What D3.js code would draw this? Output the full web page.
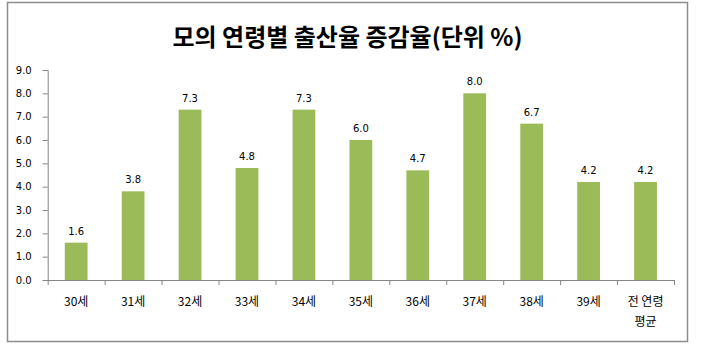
<!DOCTYPE html>
<html>
<head>
<meta charset="utf-8">
<script src="https://cdn.jsdelivr.net/npm/d3@7"></script>
<style>
  body { margin: 0; background: #fff; }
</style>
</head>
<body>
<div id="chart"></div>
<script>
const categories = ['30세', '31세', '32세', '33세', '34세', '35세', '36세', '37세', '38세', '39세', '전 연령|평균']
const values = [1.6, 3.8, 7.3, 4.8, 7.3, 6.0, 4.7, 8.0, 6.7, 4.2, 4.2]
const yTicks = [0, 1, 2, 3, 4, 5, 6, 7, 8, 9]
const title = '모의 연령별 출산율 증감율(단위 %)'

const width = 701
const height = 354
const margin = { left: 47.7, right: 27, top: 70, bottom: 74 }

const svg = d3.select('#chart')
  .append('svg')
  .attr('width', width)
  .attr('height', height)

// outer frame
svg.append('rect')
  .attr('x', 7.5).attr('y', 2.5)
  .attr('width', 680).attr('height', 339)
  .attr('fill', '#fff')
  .attr('stroke', '#8c8c8c')
  .attr('stroke-width', 1.5)

svg.append('text')
  .attr('x', 347.5).attr('y', 46)
  .attr('text-anchor', 'middle')
  .attr('font-family', '"Noto Sans CJK KR", sans-serif')
  .attr('font-weight', 'bold')
  .attr('font-size', 24)
  .attr('fill', '#000')
  .text(title)

const x = d3.scaleBand()
  .domain(categories)
  .range([margin.left, width - margin.right])
  .paddingInner(0.6)
  .paddingOuter(0.3)

const y = d3.scaleLinear()
  .domain([0, 9])
  .range([height - margin.bottom, margin.top])

const axisColor = '#868686'

// y axis
const yAxis = svg.append('g')
  .attr('transform', `translate(${margin.left},0)`)
  .call(d3.axisLeft(y).tickValues(yTicks).tickFormat(d3.format('.1f')).tickSize(5).tickPadding(11))
yAxis.select('.domain').attr('stroke', axisColor)
yAxis.selectAll('.tick line').attr('stroke', axisColor)
yAxis.selectAll('text')
  .attr('font-family', '"DejaVu Sans", sans-serif')
  .attr('font-size', 10)
  .attr('fill', '#000')

// bars
svg.append('g')
  .selectAll('rect')
  .data(values)
  .join('rect')
  .attr('x', (d, i) => x(categories[i]))
  .attr('y', (d) => y(d))
  .attr('width', x.bandwidth())
  .attr('height', (d) => y(0) - y(d))
  .attr('fill', '#9bbb59')

// value labels
svg.append('g')
  .selectAll('text')
  .data(values)
  .join('text')
  .attr('x', (d, i) => x(categories[i]) + x.bandwidth() / 2)
  .attr('y', (d) => y(d) - 8)
  .attr('text-anchor', 'middle')
  .attr('font-family', '"DejaVu Sans", sans-serif')
  .attr('font-size', 10)
  .attr('fill', '#000')
  .text((d) => d3.format('.1f')(d))

// x axis: ticks sit on band boundaries
const xAxisScale = d3.scaleLinear()
  .domain([0, categories.length])
  .range([margin.left, width - margin.right])
const xAxis = svg.append('g')
  .attr('transform', `translate(0,${y(0)})`)
  .call(d3.axisBottom(xAxisScale).ticks(categories.length).tickSize(5).tickFormat(''))
xAxis.select('.domain').attr('stroke', axisColor).attr('d', `M${margin.left},0.5H${width - margin.right}`)
xAxis.selectAll('.tick line').attr('stroke', axisColor)

const labels = svg.append('g')
  .selectAll('text')
  .data(categories)
  .join('text')
  .attr('x', (d) => x(d) + x.bandwidth() / 2)
  .attr('y', y(0) + 26)
  .attr('text-anchor', 'middle')
  .attr('font-family', '"Noto Sans CJK KR", sans-serif')
  .attr('font-size', 12)
  .attr('fill', '#000')
labels.each(function (d) {
  const lines = d.split('|')
  d3.select(this).selectAll('tspan')
    .data(lines)
    .join('tspan')
    .attr('x', x(d) + x.bandwidth() / 2)
    .attr('dy', (l, i) => (i === 0 ? 0 : 20))
    .text((l) => l)
})
</script>
</body>
</html>
